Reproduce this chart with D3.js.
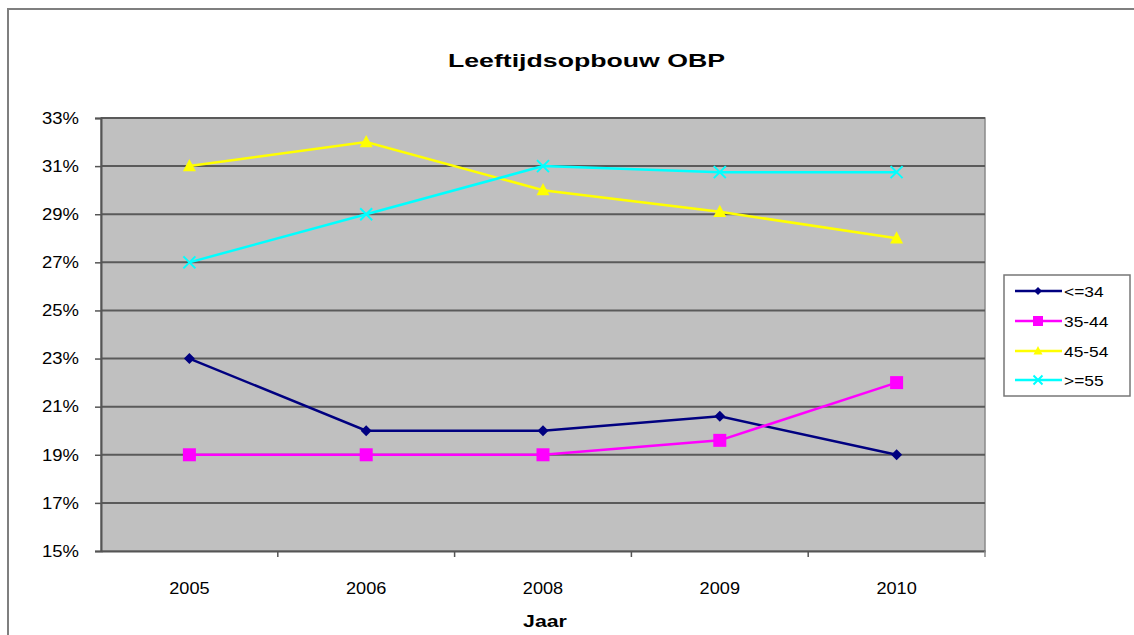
<!DOCTYPE html>
<html><head><meta charset="utf-8">
<script src="https://cdn.jsdelivr.net/npm/d3@7"></script>
<style>body{margin:0;background:#fff;} svg{display:block;} text{font-family:Arial,"Liberation Sans",sans-serif;fill:#000;}</style>
</head><body>
<svg id="c" width="1134" height="635"></svg>
<script>
const years = ["2005","2006","2008","2009","2010"];
const seriesNames = ["<=34","35-44","45-54",">=55"];
const s1 = [0.23, 0.20, 0.20, 0.206, 0.19];
const s2 = [0.19, 0.19, 0.19, 0.196, 0.22];
const s3 = [0.31, 0.32, 0.30, 0.291, 0.28];
const s4 = [0.27, 0.29, 0.31, 0.3075, 0.3075];
const yTicks = [0.15,0.17,0.19,0.21,0.23,0.25,0.27,0.29,0.31,0.33];
const colors = ["#000080","#ff00ff","#ffff00","#00ffff"];
const shapes = ["diamond","square","triangle","cross"];
const seriesVals = [s1,s2,s3,s4];

const svg = d3.select("#c");
const L=101, R=985, T=118, B=551;
const x = d3.scaleBand().domain(years).range([L,R]);
const y = d3.scaleLinear().domain([0.15,0.33]).range([B,T]);

function stretch(sel, f){ sel.each(function(){ const w=this.getComputedTextLength(); d3.select(this).attr("textLength", w*f).attr("lengthAdjust","spacingAndGlyphs"); }); }

// outer frame
svg.append("rect").attr("x",8).attr("y",9).attr("width",1140).attr("height",640).attr("fill","#fff").attr("stroke","#7f7f7f").attr("stroke-width",2);

// title
const t = svg.append("text").attr("x",(448+725)/2).attr("y",67).attr("text-anchor","middle").attr("font-size",19).attr("font-weight","bold").text("Leeftijdsopbouw OBP");
t.attr("textLength",277).attr("lengthAdjust","spacingAndGlyphs");

// plot area
svg.append("rect").attr("x",L).attr("y",T).attr("width",R-L).attr("height",B-T).attr("fill","#c0c0c0").attr("stroke","#8a8a8a").attr("stroke-width",1.5);

// gridlines
svg.append("g").selectAll("line").data(yTicks.slice(1)).join("line")
  .attr("x1",L).attr("x2",R).attr("y1",d=>y(d)).attr("y2",d=>y(d))
  .attr("stroke","#5a5a5a").attr("stroke-width",2);

// y axis
const ya = svg.append("g").attr("transform",`translate(${L},0)`)
  .call(d3.axisLeft(y).tickValues(yTicks).tickFormat(d3.format(".0%")).tickSize(6).tickPadding(16));
ya.select(".domain").attr("stroke","#555").attr("stroke-width",2);
ya.selectAll(".tick line").attr("stroke","#555").attr("stroke-width",1.5);
ya.selectAll(".tick text").attr("font-size",16.5).attr("fill","#222").attr("font-family","Arial,'Liberation Sans',sans-serif").call(stretch,1.12);

// x axis
const xa = svg.append("g").attr("transform",`translate(0,${B})`)
  .call(d3.axisBottom(x).tickSize(0).tickPadding(31));
xa.select(".domain").attr("stroke","#555").attr("stroke-width",2);
xa.selectAll(".tick text").attr("font-size",16.5).attr("fill","#222").attr("font-family","Arial,'Liberation Sans',sans-serif").call(stretch,1.1);
// boundary ticks
svg.append("g").selectAll("line").data(years.slice(1)).join("line")
  .attr("x1",d=>x(d)).attr("x2",d=>x(d)).attr("y1",B).attr("y2",B+6).attr("stroke","#555").attr("stroke-width",1.5);
svg.append("line").attr("x1",R).attr("x2",R).attr("y1",B).attr("y2",B+6).attr("stroke","#888").attr("stroke-width",1.5);

// axis title
svg.append("text").attr("x",545).attr("y",627).attr("text-anchor","middle").attr("font-size",17).attr("font-weight","bold").text("Jaar").call(stretch,1.25);

function marker(g, shape, color, cx, cy, s){
  if(shape==="diamond") g.append("path").attr("d",`M${cx},${cy-s}L${cx+s},${cy}L${cx},${cy+s}L${cx-s},${cy}Z`).attr("fill",color);
  else if(shape==="square") g.append("rect").attr("x",cx-s).attr("y",cy-s).attr("width",2*s).attr("height",2*s).attr("fill",color);
  else if(shape==="triangle") g.append("path").attr("d",`M${cx},${cy-s*1.1}L${cx+s},${cy+s*0.8}L${cx-s},${cy+s*0.8}Z`).attr("fill",color);
  else { g.append("path").attr("d",`M${cx-s},${cy-s}L${cx+s},${cy+s}M${cx-s},${cy+s}L${cx+s},${cy-s}`).attr("stroke",color).attr("stroke-width",2); }
}
const sizes = [5.5,6.5,6.5,6];
const line = d3.line().x((d,i)=>x(years[i])+x.bandwidth()/2).y(d=>y(d));
seriesVals.forEach((vals,k)=>{
  const g = svg.append("g");
  g.append("path").datum(vals).attr("d",line).attr("fill","none").attr("stroke",colors[k]).attr("stroke-width",2.5);
  vals.forEach((v,i)=>marker(g, shapes[k], colors[k], x(years[i])+x.bandwidth()/2, y(v), sizes[k]));
});

// legend
const lg = svg.append("g");
lg.append("rect").attr("x",1004).attr("y",275).attr("width",126).attr("height",121).attr("fill","#fff").attr("stroke","#777").attr("stroke-width",1.5);
const ly = [291,321,351,380];
seriesNames.forEach((n,k)=>{
  lg.append("line").attr("x1",1015).attr("x2",1062).attr("y1",ly[k]).attr("y2",ly[k]).attr("stroke",colors[k]).attr("stroke-width",2.5);
  marker(lg, shapes[k], colors[k], 1038, ly[k], [4,5,4.5,4.5][k]);
  lg.append("text").attr("x",1064).attr("y",ly[k]+5.5).attr("font-size",15.5).attr("fill","#222").text(n).call(stretch,1.12);
});
</script>
</body></html>
